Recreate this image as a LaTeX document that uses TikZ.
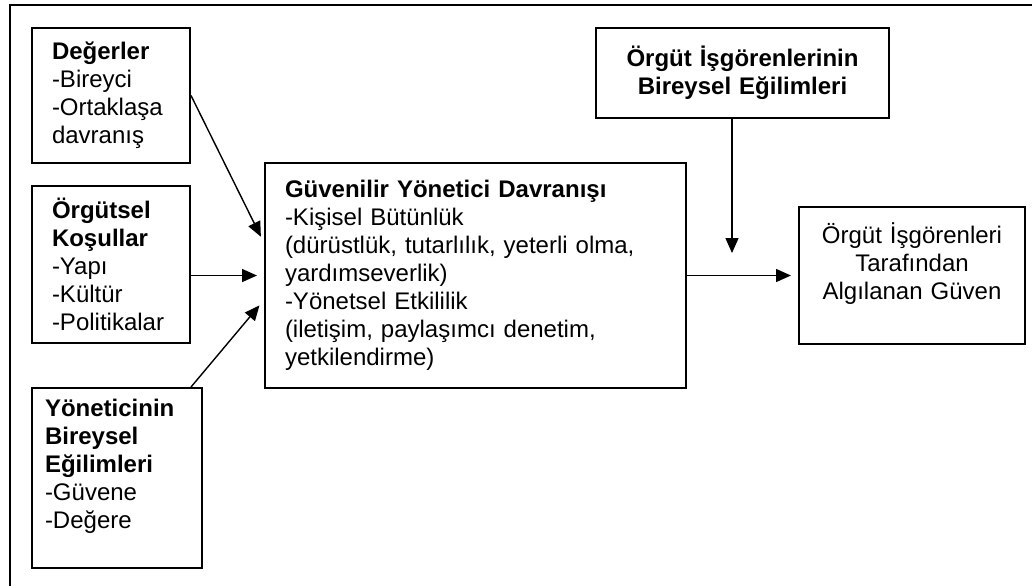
\documentclass[tikz,border=0pt]{standalone}
\usepackage{fontspec}
\setmainfont{Liberation Sans}
\usetikzlibrary{arrows.meta,calc}

\begin{document}
\begin{tikzpicture}[x=0.5pt,y=-0.5pt,
  font=\fontsize{12pt}{14pt}\selectfont,
  kutu/.style={draw,line width=1pt,inner xsep=10pt,inner ysep=0pt,align=left,
    execute at begin node={\setlength{\baselineskip}{14pt}}},
  ok/.style={line width=0.7pt,-{Triangle[length=7.5pt,width=6.5pt]},shorten >=3.5pt}]
\useasboundingbox (0,0) rectangle (1032,586);
\draw[line width=1pt] (1032,4.5) -| (9.5,586);
\node[kutu,text width=59pt,minimum height=67.5pt] (deger) at (111,95.5)
  {\textbf{Değerler}\\-Bireyci\\-Ortaklaşa\\davranış};
\node[kutu,text width=59pt,minimum height=78.5pt] (orgut) at (111,264.5)
  {\textbf{Örgütsel}\\\textbf{Koşullar}\\-Yapı\\-Kültür\\-Politikalar};
\node[kutu,inner xsep=6.5pt,text width=72pt,minimum height=90pt] (yonetici) at (117,478)
  {\textbf{Yöneticinin}\\\textbf{Bireysel}\\\textbf{Eğilimleri}\\-Güvene\\-Değere\\\mbox{}};
\node[kutu,text width=190.5pt,minimum height=112.5pt] (davranis) at (475.5,275.5)
  {\textbf{Güvenilir Yönetici Davranışı}\\-Kişisel Bütünlük\\(dürüstlük, tutarlılık, yeterli olma,\\yardımseverlik)\\-Yönetsel Etkililik\\(iletişim, paylaşımcı denetim,\\yetkilendirme)};
\node[kutu,align=center,text width=126.5pt,minimum height=45pt] (isgoren) at (742.5,73)
  {\textbf{Örgüt İşgörenlerinin}\\\textbf{Bireysel Eğilimleri}};
\node[kutu,align=center,text width=93pt,minimum height=68.5pt] (guven) at (912,275.5)
  {Örgüt İşgörenleri\\Tarafından\\Algılanan Güven\\\mbox{}};
\coordinate (ucu) at (732,253);

\draw[ok] (deger.east) -- ($(davranis.west)+(0,-32.5)$);
\draw[ok] (orgut.east |- davranis.west) -- (davranis.west);
\draw[ok] ($(yonetici.north east)+(-12,0)$) -- ($(davranis.west)+(0,24.5)$);
\draw[ok] (davranis.east) -- (guven.west);
\draw[ok,shorten >=0pt] (isgoren.south -| ucu) -- (ucu);
\end{tikzpicture}
\end{document}
